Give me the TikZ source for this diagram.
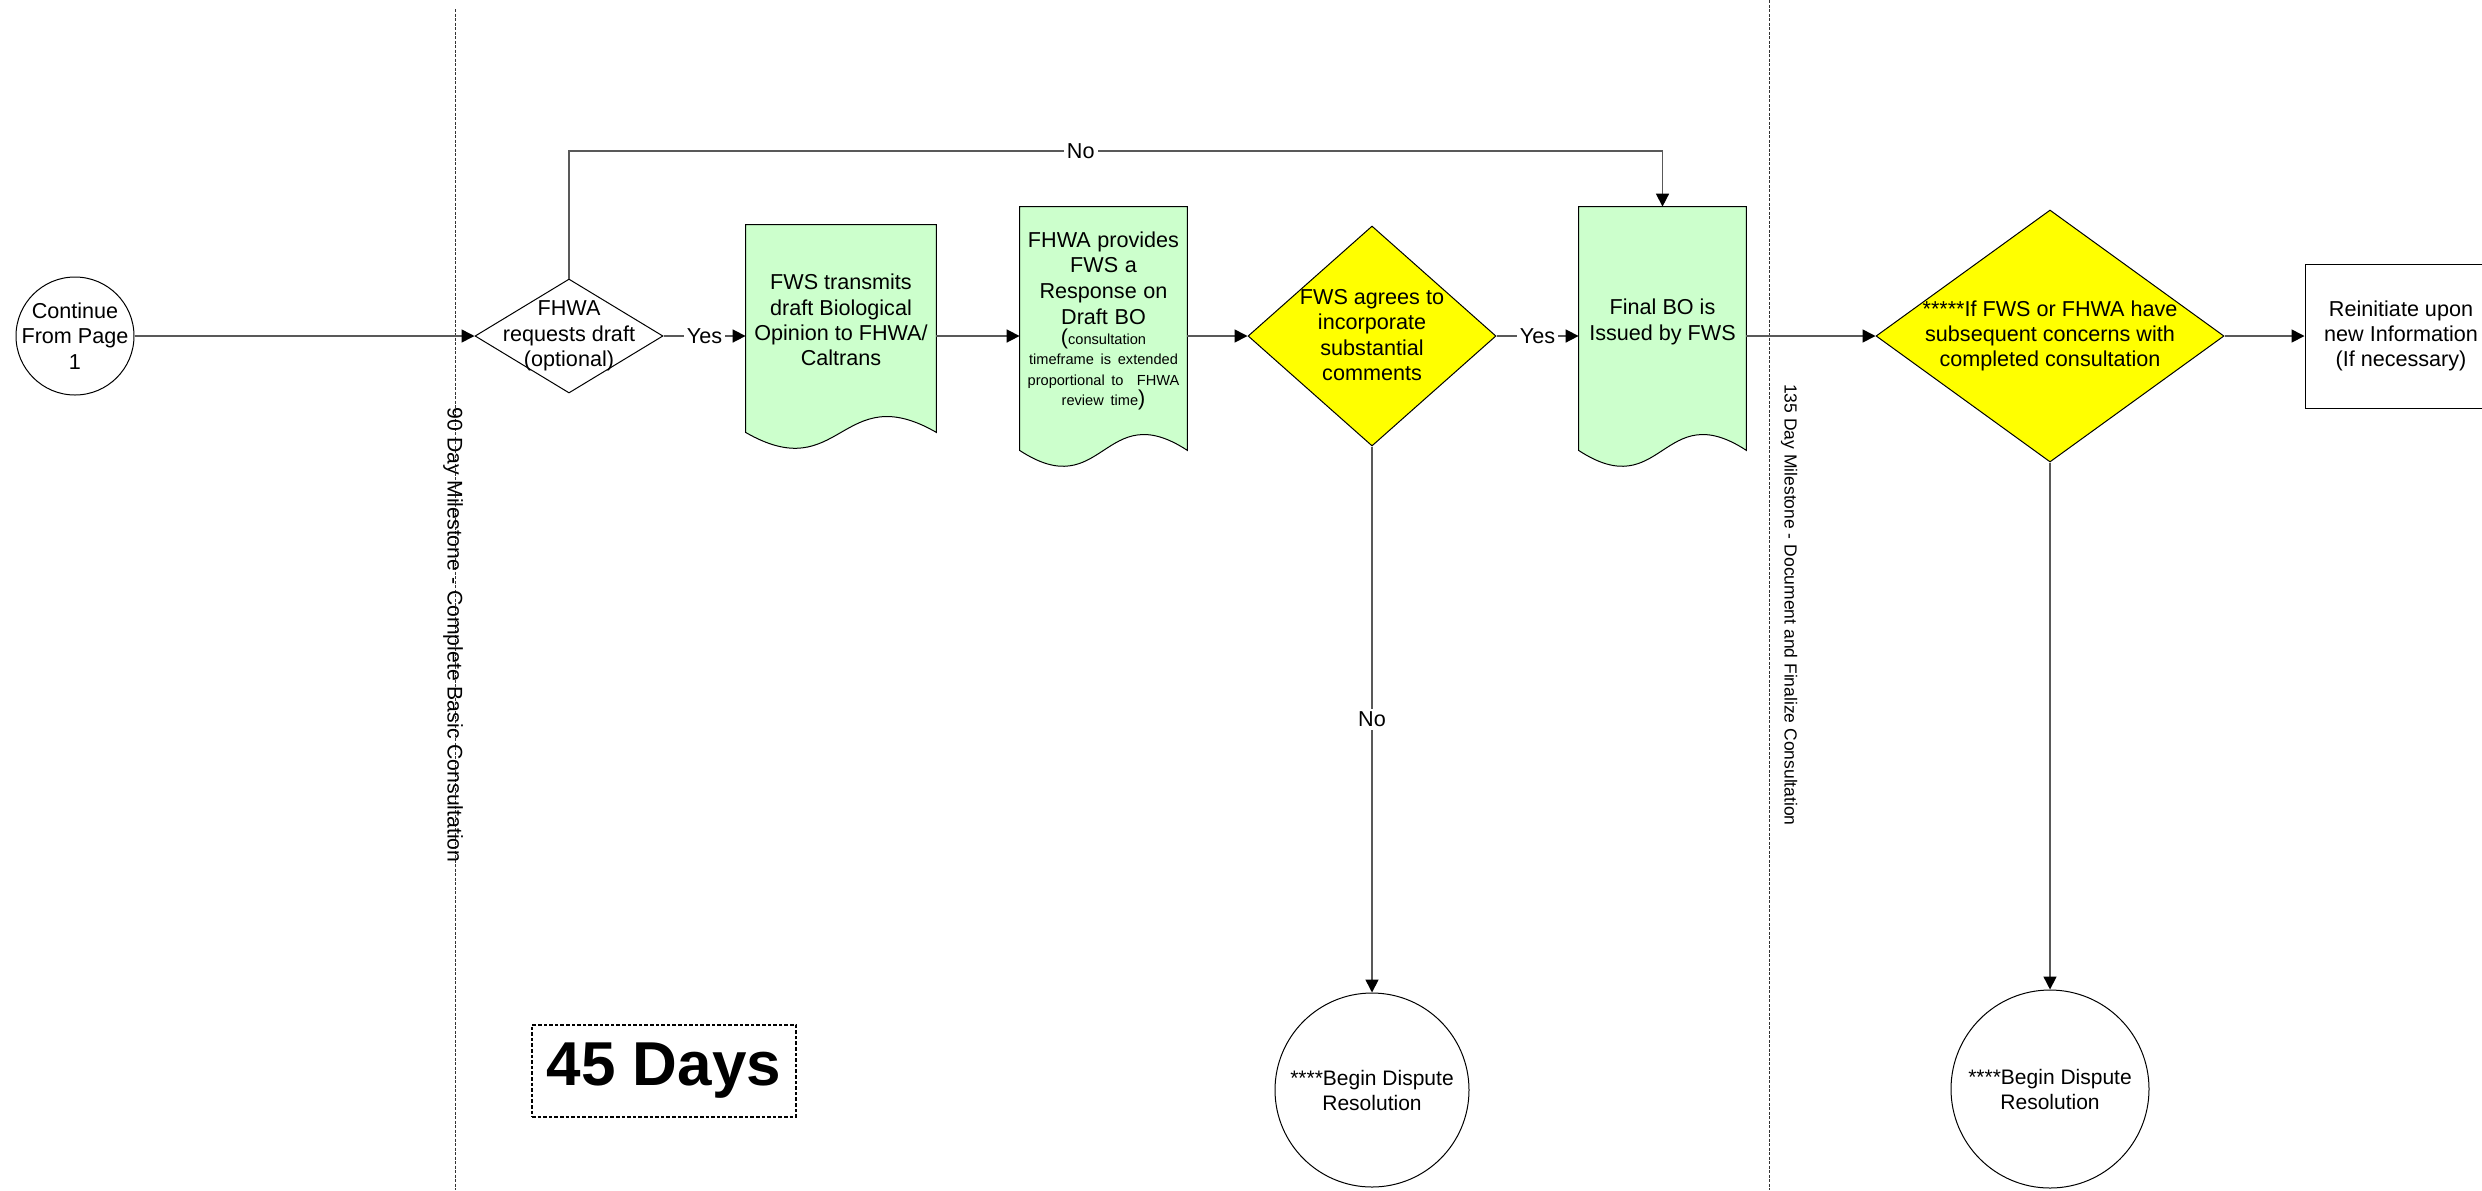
\documentclass[tikz,border=0pt]{standalone}
\usepackage{fontspec}
\setmainfont{Liberation Sans}
\usetikzlibrary{shapes.geometric,arrows.meta,calc,backgrounds}
\definecolor{docgreen}{HTML}{CCFFCC}
\definecolor{decyellow}{HTML}{FFFF00}
\tikzset{
  conn/.style={draw=black!65, line width=0.8pt},
  arr/.style={conn, -{Triangle[length=6.5pt,width=6.5pt,color=black]}},
  lbl/.style={fill=white, inner sep=1.5pt, font=\fontsize{10.8}{12.5}\selectfont},
  dia/.style={diamond, draw=black, line width=0.5pt, inner sep=0pt},
  circ/.style={circle, draw=black, line width=0.5pt, inner sep=0pt, fill=white},
  docarea/.style={rectangle, inner sep=0pt},
  docfill/.style={fill=docgreen, draw=black, line width=0.5pt},
  txt/.style={align=center, inner sep=0pt, font=\fontsize{10.8}{12.7}\selectfont},
  smalltxt/.style={align=center, inner sep=0pt, font=\fontsize{10.5}{12.5}\selectfont},
  mline/.style={draw=black!80, line width=0.5pt, dash pattern=on 1.5pt off 0.75pt},
  mlabel/.style={rotate=-90, inner sep=0pt},
  boxdash/.style={draw=black, line width=0.7pt, dash pattern=on 1.8pt off 1pt},
}
\newcommand\docpath[1]{%
  \path[docfill] (#1.south west) -- (#1.north west) -- (#1.north east) -- (#1.south east)
    .. controls ($(#1.south)+(0,-55)$) and ($(#1.south)+(0,55)$) .. (#1.south west) -- cycle;}
\begin{document}
\begin{tikzpicture}[x=0.5pt,y=-0.5pt]
\useasboundingbox (0,0) rectangle (2482,1190);
\clip (0,0) rectangle (2482,1190);

% milestone lines
\coordinate (m1top) at (455,9);
\coordinate (m1bot) at (455,1190);
\coordinate (m2top) at (1769,0);
\coordinate (m2bot) at (1769,1190);
\draw[mline] (m1top) -- (m1bot);
\draw[mline] (m2top) -- (m2bot);
\node[mlabel, font=\fontsize{10.6}{12}\selectfont] (m1lbl) at (453,635) {90 Day Milestone - Complete Basic Consultation};
\node[mlabel, font=\fontsize{8.75}{10}\selectfont] (m2lbl) at (1789,605) {135 Day Milestone - Document and Finalize Consultation};

% start
\node[circ, minimum size=59pt] (start) at (75,336) {};
\node[txt] (startt) at (start) {Continue\\From Page\\1};

% decision 1
\node[dia, fill=white, minimum width=94pt, minimum height=57pt] (d1) at (569,336) {};
\node[txt] (d1t) at (569,336) {FHWA\\requests draft\\(optional)};

% documents
\node[docarea, minimum width=95pt, minimum height=103.5pt] (doc1) at (841,328.5) {};
\node[docarea, minimum width=83.5pt, minimum height=121.5pt] (doc2) at (1103.5,328.5) {};
\node[docarea, minimum width=83.5pt, minimum height=121.5pt] (doc3) at (1662.5,328.5) {};
\begin{scope}[on background layer]
  \docpath{doc1}
  \docpath{doc2}
  \docpath{doc3}
\end{scope}
\node[txt] (doc1t) at (841,320) {FWS transmits\\draft Biological\\Opinion to FHWA/\\Caltrans};
\node[inner sep=0pt, text width=83pt, align=center] (doc2t) at (1103.5,321)
  {\fontsize{10.8}{12.8}\selectfont FHWA provides\\FWS a\\Response on\\Draft BO\par
   \fontsize{7.3}{10.2}\selectfont{\fontsize{10.8}{10.2}\selectfont(}consultation\\timeframe is extended\\proportional to\ \ FHWA\\review time{\fontsize{10.8}{10.2}\selectfont)}\par};
\node[txt] (doc3t) at (1662.5,322) {Final BO is\\Issued by FWS};

% decision 2
\node[dia, fill=decyellow, minimum width=124pt, minimum height=110pt] (d2) at (1372,336) {};
\node[txt] (d2t) at (1372,335) {FWS agrees to\\incorporate\\substantial\\comments};

% decision 3
\node[dia, fill=decyellow, minimum width=174pt, minimum height=126pt] (d3) at (2050,336) {};
\node[txt] (d3t) at (2050,336) {*****If FWS or FHWA have\\subsequent concerns with\\completed consultation};

% reinitiate
\node[draw=black, line width=0.5pt, fill=white, minimum width=96pt, minimum height=72pt, inner sep=0pt] (reinit) at (2401,336) {};
\node[txt] (reinitt) at (2401,336) {Reinitiate upon\\new Information\\(If necessary)};

% dispute circles
\node[circ, minimum size=97pt] (disp1) at (1372,1090) {};
\node[smalltxt] (disp1t) at (1372,1090) {****Begin Dispute\\Resolution};
\node[circ, minimum size=99pt] (disp2) at (2050,1089) {};
\node[smalltxt] (disp2t) at (2050,1089) {****Begin Dispute\\Resolution};

% 45 days
\node[boxdash, minimum width=132pt, minimum height=46pt, inner sep=0pt,
      font=\bfseries\fontsize{31}{36}\selectfont] (days) at (664,1071) {45 Days};

% connectors
\coordinate (nc1) at (569,151);
\coordinate (nc2) at (1662.5,151);
\draw[arr] (start) -- (d1);
\draw[arr] (d1) -- node[lbl]{Yes} (doc1.west |- d1);
\draw[arr] (doc1.east |- d1) -- (doc2.west |- d1);
\draw[arr] (doc2.east |- d1) -- (d2);
\draw[arr] (d2) -- node[lbl]{Yes} (doc3.west |- d2);
\draw[arr] (doc3.east |- d2) -- (d3);
\draw[arr] (d3) -- (reinit);
\draw[arr] (d1.north) -- (nc1) -- node[lbl, pos=0.468]{No} (nc2) -- (doc3.north);
\draw[arr] (d2) -- node[lbl]{No} (disp1);
\draw[arr] (d3) -- (disp2);
\end{tikzpicture}
\end{document}
